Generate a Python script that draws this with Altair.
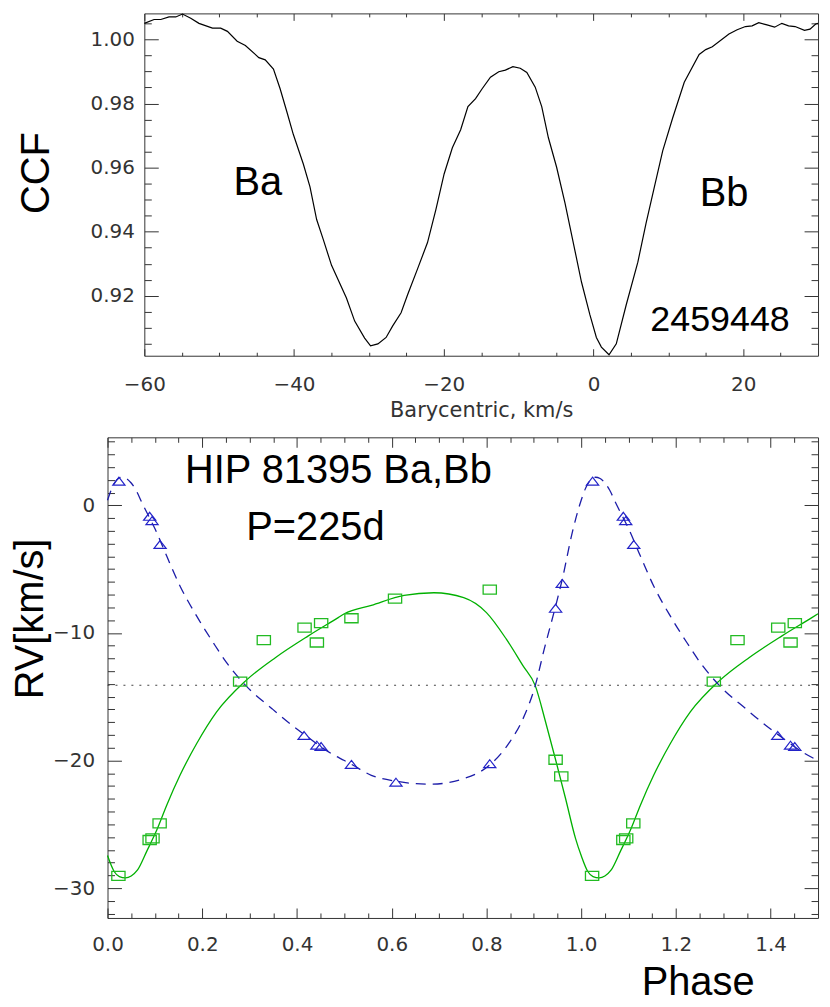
import altair as alt
import pandas as pd

# ---------------- top panel : CCF ----------------
ccf_v = [-60.0, -58.7, -57.8, -56.7, -55.8, -54.9, -53.8, -52.7, -50.9, -49.8, -48.9, -47.6,
         -46.5, -44.7, -43.85, -42.75, -41.86, -40.97, -40.09, -38.76, -37.87, -36.98, -36.1,
         -34.99, -33.0, -31.9, -30.57, -29.78, -28.8, -27.7, -26.82, -25.7, -24.83, -23.5,
         -22.17, -21.06, -19.95, -18.85, -17.74, -16.77, -15.75, -14.87, -13.76, -12.65,
         -11.77, -10.76, -9.78, -8.9, -7.78, -6.91, -6.02, -4.92, -3.80, -2.70, -1.60, -0.48,
         0.39, 1.06, 2.08, 3.05, 4.38, 5.93, 7.03, 8.14, 9.25, 10.57, 12.13, 14.12, 15.0,
         15.88, 18.1, 19.2, 20.3, 21.2, 22.08, 23.18, 24.2, 25.17, 26.06, 26.94, 28.19,
         28.93, 29.69, 30.0]
ccf_y = [1.0050, 1.0062, 1.0062, 1.0070, 1.0070, 1.0079, 1.0066, 1.0050, 1.0035, 1.0035,
         1.0025, 0.9994, 0.9981, 0.9943, 0.9936, 0.9907, 0.9846, 0.9775, 0.9703, 0.9611,
         0.9540, 0.9438, 0.9376, 0.9295, 0.9193, 0.9121, 0.9068, 0.9044, 0.9050, 0.9070,
         0.9106, 0.9147, 0.9203, 0.9284, 0.9366, 0.9468, 0.9580, 0.9662, 0.9718, 0.9790,
         0.9815, 0.9846, 0.9882, 0.9899, 0.9904, 0.9915, 0.9910, 0.9897, 0.9851, 0.9790,
         0.9693, 0.9601, 0.9489, 0.9366, 0.9243, 0.9141, 0.9070, 0.9040, 0.9016, 0.9050,
         0.9172, 0.9305, 0.9427, 0.9540, 0.9652, 0.9754, 0.9866, 0.9953, 0.9968, 0.9977,
         1.0017, 1.0030, 1.0040, 1.0042, 1.0052, 1.0045, 1.0038, 1.0050, 1.0042, 1.0040,
         1.0028, 1.0032, 1.0048, 1.0050]
ccf_x_domain = [-60, 30]
ccf_y_domain = [0.9013, 1.0081]
ccf_x_major = [-60, -40, -20, 0, 20]
ccf_x_minor = [-55, -50, -45, -35, -30, -25, -15, -10, -5, 5, 10, 15, 25]
ccf_y_major = [0.92, 0.94, 0.96, 0.98, 1.00]
ccf_y_minor = [0.905, 0.91, 0.915, 0.925, 0.93, 0.935, 0.945, 0.95, 0.955, 0.965, 0.97,
               0.975, 0.985, 0.99, 0.995, 1.005]
ccf_texts = ["Ba", "Bb", "2459448"]
ccf_text_v = [-48.1, 14.2, 7.6]
ccf_text_y = [0.9514, 0.9481, 0.9090]

# ---------------- bottom panel : RV curve ----------------
tri_phase = [0.024, 0.089, 0.094, 0.111, 0.415, 0.442, 0.451, 0.515, 0.609, 0.807, 0.946, 0.960]
tri_rv = [1.9, -0.86, -1.2, -3.07, -18.04, -18.8, -18.9, -20.3, -21.7, -20.25, -8.07, -6.12]
sq_phase = [0.023, 0.089, 0.095, 0.110, 0.280, 0.330, 0.416, 0.442, 0.451, 0.515, 0.607,
            0.807, 0.946, 0.958]
sq_rv = [-29.04, -26.23, -26.1, -24.93, -13.82, -10.57, -9.58, -10.75, -9.24, -8.85, -7.31,
         -6.61, -19.94, -21.24]
# fitted orbit curves
fit1_phase = [0.0, 0.01, 0.02, 0.03, 0.04, 0.05, 0.06, 0.073, 0.089, 0.101, 0.125, 0.153,
              0.188, 0.223, 0.251, 0.292, 0.348, 0.390, 0.415, 0.473, 0.5, 0.515, 0.557,
              0.609, 0.682, 0.752, 0.807, 0.849, 0.877, 0.903, 0.922, 0.946, 0.960, 0.981]
fit1_rv = [0.4, 1.4, 2.0, 2.2, 2.1, 1.75, 1.2, 0.18, -1.0, -1.9, -3.98, -6.32, -8.67, -10.75,
           -12.31, -14.13, -15.96, -17.25, -17.95, -19.47, -20.0, -20.3, -21.16, -21.62,
           -21.86, -21.42, -20.35, -18.56, -16.74, -14.13, -11.27, -7.9, -5.81, -2.16]
fit2_phase = [0.0, 0.014, 0.025, 0.038, 0.05, 0.063, 0.083, 0.104, 0.125, 0.153, 0.188,
              0.230, 0.292, 0.355, 0.424, 0.487, 0.5, 0.557, 0.626, 0.689, 0.752, 0.800,
              0.842, 0.877, 0.903, 0.925, 0.946, 0.967, 0.988]
fit2_rv = [-27.45, -28.7, -29.1, -29.2, -29.05, -28.6, -27.1, -25.45, -23.5, -21.16, -18.69,
           -16.21, -13.74, -11.92, -10.23, -8.8, -8.5, -7.84, -7.06, -6.85, -7.24, -8.41,
           -10.49, -12.57, -14.13, -17.0, -19.94, -22.98, -26.1]
gamma = [-14.1]
rv_x_domain = [0, 1.5]
rv_y_domain = [-32.34, 5.33]
rv_x_major = [0.0, 0.2, 0.4, 0.6, 0.8, 1.0, 1.2, 1.4]
rv_x_minor = [0.05, 0.1, 0.15, 0.25, 0.3, 0.35, 0.45, 0.5, 0.55, 0.65, 0.7, 0.75, 0.85, 0.9,
              0.95, 1.05, 1.1, 1.15, 1.25, 1.3, 1.35, 1.45]
rv_y_major = [-30, -20, -10, 0]
rv_y_minor = [-32, -31, -29, -28, -27, -26, -25, -24, -23, -22, -21, -19, -18, -17, -16, -15,
              -14, -13, -12, -11, -9, -8, -7, -6, -5, -4, -3, -2, -1, 1, 2, 3, 4, 5]
rv_texts = ["HIP 81395 Ba,Bb", "P=225d"]
rv_text_phase = [0.1635, 0.293]
rv_text_rv = [1.74, -2.69]


def fold(ph, val):
    """phase-folded data are shown a second time at phase+1 (up to 1.5), as in the original"""
    rows = [(p, v) for p, v in zip(ph, val)] + [(p + 1, v) for p, v in zip(ph, val) if p <= 0.5]
    rows.sort()
    return pd.DataFrame(rows, columns=["phase", "rv"])


BLUE_LINE = "#1c1ca8"
BLUE_PT = "#2222c8"
GREEN_LINE = "#00b000"
GREEN_PT = "#22bb22"
AX = "#333333"
LABFONT = "DejaVu Sans"
BIG = "Liberation Sans"
TRI = "M0,-0.65L1,0.65L-1,0.65Z"
RECT = "M-1,-0.68L1,-0.68L1,0.68L-1,0.68Z"

W, H1, H2 = 714, 344, 483
SHIFT = 37          # top panel frame starts this far right of the lower panel frame


def tick_axis(orient, values, size, shift=0):
    return alt.Axis(orient=orient, values=values, tickSize=size, offset=-(size + shift),
                    domain=False, grid=False, labels=False, title=None, ticks=True,
                    tickColor=AX, tickWidth=1)


def frame_axis(orient, shift=0):
    return alt.Axis(orient=orient, offset=-shift, domain=True, domainColor=AX, domainWidth=1,
                    ticks=False, labels=False, grid=False, title=None)


def label_axis(orient, values, size, fmt, pad, title, shift=0, **kw):
    return alt.Axis(orient=orient, values=values, tickSize=size, offset=-(size + shift),
                    domain=False, grid=False, labels=True, format=fmt, labelPadding=pad,
                    labelFont=LABFONT, labelFontSize=20, labelColor=AX, labelFlush=False,
                    labelOverlap=False, labelBound=False, ticks=True, tickColor=AX,
                    tickWidth=1, title=title, **kw)


# ----- top panel -----
sx1 = alt.Scale(domain=ccf_x_domain, range=[SHIFT, W], nice=False, zero=False)
sy1 = alt.Scale(domain=ccf_y_domain, nice=False, zero=False)

ccf_df = pd.DataFrame({"v": ccf_v, "ccf": ccf_y})
ccf_line = alt.Chart(ccf_df).mark_line(color="black", strokeWidth=1.2).encode(
    x=alt.X("v:Q", scale=sx1, axis=label_axis(
        "bottom", ccf_x_major, 7, "d", 19, "Barycentric, km/s",
        titleFont=LABFONT, titleFontSize=21, titleFontWeight="normal", titleColor=AX,
        titleX=(SHIFT + W) / 2, titleY=68, titleBaseline="alphabetic", titleAlign="center")),
    y=alt.Y("ccf:Q", scale=sy1, axis=label_axis(
        "left", ccf_y_major, 14, ".2f", 10, "CCF", shift=SHIFT,
        titleFont=BIG, titleFontSize=40, titleFontWeight="normal", titleColor="black",
        titleAngle=270, titleX=-110, titleY=160, titleBaseline="alphabetic",
        titleAlign="center")),
    order=alt.Order("v:Q"),
)

ccf_axes = [
    (tick_axis("bottom", ccf_x_minor, 3.5), tick_axis("left", ccf_y_minor, 7, SHIFT)),
    (tick_axis("top", ccf_x_major, 7), tick_axis("right", ccf_y_major, 14)),
    (tick_axis("top", ccf_x_minor, 3.5), tick_axis("right", ccf_y_minor, 7)),
]
ccf_layers = [ccf_line]
for i, t in enumerate(ccf_texts):
    df = pd.DataFrame({"v": [ccf_text_v[i]], "ccf": [ccf_text_y[i]]})
    xa, ya = ccf_axes[i]
    ccf_layers.append(
        alt.Chart(df).mark_text(text=t, align="left", baseline="alphabetic", font=BIG,
                                fontSize=36 if t == "2459448" else 40, color="black").encode(
            x=alt.X("v:Q", scale=sx1, axis=xa), y=alt.Y("ccf:Q", scale=sy1, axis=ya)))
# frame of the upper panel (drawn by axis domain lines)
ccf_layers.append(
    alt.Chart(ccf_df).mark_point(opacity=0).encode(
        x=alt.X("v:Q", scale=sx1, axis=frame_axis("bottom")),
        y=alt.Y("ccf:Q", scale=sy1, axis=frame_axis("left", SHIFT))))
ccf_layers.append(
    alt.Chart(ccf_df).mark_point(opacity=0).encode(
        x=alt.X("v:Q", scale=sx1, axis=frame_axis("top")),
        y=alt.Y("ccf:Q", scale=sy1, axis=frame_axis("right"))))

top = alt.layer(*ccf_layers).resolve_axis(x="independent", y="independent").properties(
    width=W, height=H1, view=alt.ViewBackground(strokeOpacity=0))

# ----- bottom panel -----
sx2 = alt.Scale(domain=rv_x_domain, nice=False, zero=False)
sy2 = alt.Scale(domain=rv_y_domain, nice=False, zero=False)

gamma_rule = alt.Chart(pd.DataFrame({"rv": gamma})).mark_rule(
    color="#444444", strokeDash=[2, 6], strokeWidth=1.2).encode(
    y=alt.Y("rv:Q", scale=sy2, axis=None))

green_line = alt.Chart(fold(fit2_phase, fit2_rv)).mark_line(
    color=GREEN_LINE, strokeWidth=1.3, interpolate="monotone").encode(
    x=alt.X("phase:Q", scale=sx2, axis=label_axis(
        "bottom", rv_x_major, 10, ".1f", 17, "Phase",
        titleFont=BIG, titleFontSize=40, titleFontWeight="normal", titleColor="black",
        titleX=593, titleY=87, titleBaseline="alphabetic", titleAlign="center")),
    y=alt.Y("rv:Q", scale=sy2, axis=label_axis(
        "left", rv_y_major, 14, "d", 13, "RV[km/s]",
        titleFont=BIG, titleFontSize=40, titleFontWeight="normal", titleColor="black",
        titleAngle=270, titleX=-79, titleY=182, titleBaseline="alphabetic",
        titleAlign="center")),
    order=alt.Order("phase:Q"),
)

blue_line = alt.Chart(fold(fit1_phase, fit1_rv)).mark_line(
    color=BLUE_LINE, strokeWidth=1.3, strokeDash=[10, 7], interpolate="monotone").encode(
    x=alt.X("phase:Q", scale=sx2, axis=tick_axis("bottom", rv_x_minor, 5)),
    y=alt.Y("rv:Q", scale=sy2, axis=tick_axis("left", rv_y_minor, 7)),
    order=alt.Order("phase:Q"),
)

squares = alt.Chart(fold(sq_phase, sq_rv)).mark_point(
    shape=RECT, size=177, filled=False, color=GREEN_PT, strokeWidth=1.3, opacity=1).encode(
    x=alt.X("phase:Q", scale=sx2, axis=tick_axis("top", rv_x_major, 10)),
    y=alt.Y("rv:Q", scale=sy2, axis=tick_axis("right", rv_y_major, 14)),
)

triangles = alt.Chart(fold(tri_phase, tri_rv)).mark_point(
    shape=TRI, size=150, filled=False, color=BLUE_PT, strokeWidth=1.2, opacity=1).encode(
    x=alt.X("phase:Q", scale=sx2, axis=tick_axis("top", rv_x_minor, 5)),
    y=alt.Y("rv:Q", scale=sy2, axis=tick_axis("right", rv_y_minor, 7)),
)

rv_text_df = pd.DataFrame({"phase": rv_text_phase, "rv": rv_text_rv, "label": rv_texts})
rv_text = alt.Chart(rv_text_df).mark_text(
    align="left", baseline="alphabetic", font=BIG, fontSize=40, color="black").encode(
    x=alt.X("phase:Q", scale=sx2, axis=None),
    y=alt.Y("rv:Q", scale=sy2, axis=None),
    text="label:N",
)

bottom = alt.layer(gamma_rule, green_line, blue_line, squares, triangles, rv_text).resolve_axis(
    x="independent", y="independent").properties(width=W, height=H2)

chart = alt.vconcat(top, bottom, spacing=82, bounds="flush",
                    padding={"left": 2, "top": 0, "right": 0, "bottom": -8},
                    background="white").configure_view(stroke=AX, strokeWidth=1)

chart.save("out.html", embed_options={"renderer": "svg", "actions": False})
